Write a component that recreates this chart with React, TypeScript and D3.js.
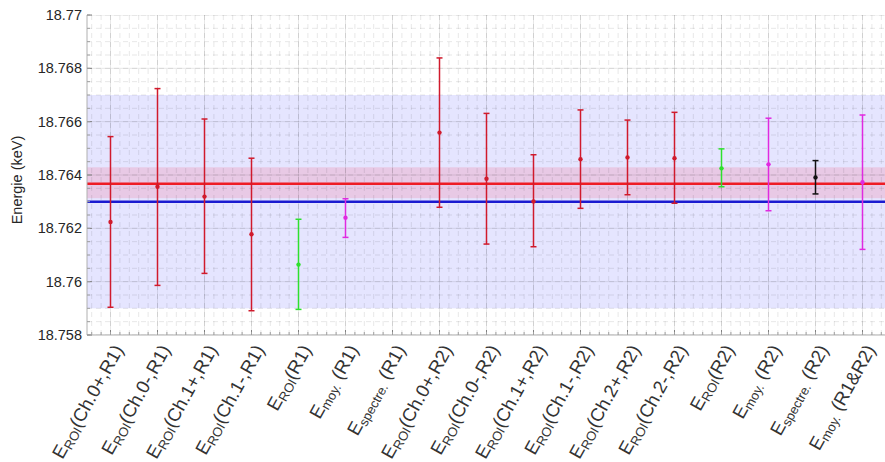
import React from "react";
import * as d3 from "d3";

const labelSubs = ["ROI", "ROI", "ROI", "ROI", "ROI", "moy.", "spectre.", "ROI", "ROI", "ROI", "ROI", "ROI", "ROI", "ROI", "moy.", "spectre.", "moy."];
const labelArgs = ["(Ch.0+,R1)", "(Ch.0-,R1)", "(Ch.1+,R1)", "(Ch.1-,R1)", "(R1)", " (R1)", " (R1)", "(Ch.0+,R2)", "(Ch.0-,R2)", "(Ch.1+,R2)", "(Ch.1-,R2)", "(Ch.2+,R2)", "(Ch.2-,R2)", "(R2)", " (R2)", " (R2)", " (R1&R2)"];
const values: (number | null)[] = [18.76224, 18.76356, 18.76319, 18.76178, 18.76064, 18.7624, null, 18.76559, 18.76386, 18.76301, 18.76459, 18.76466, 18.76463, 18.76425, 18.7644, 18.76391, 18.76373];
const uppers: (number | null)[] = [18.76544, 18.76724, 18.7661, 18.76463, 18.76234, 18.76311, null, 18.76839, 18.76631, 18.76476, 18.76644, 18.76606, 18.76635, 18.76498, 18.76613, 18.76454, 18.76625];
const lowers: (number | null)[] = [18.75904, 18.75986, 18.76031, 18.75891, 18.75896, 18.76166, null, 18.76279, 18.76141, 18.76131, 18.76275, 18.76326, 18.76294, 18.76356, 18.76266, 18.76329, 18.76121];
const pointColors = ["red", "red", "red", "red", "green", "magenta", "none", "red", "red", "red", "red", "red", "red", "green", "magenta", "black", "magenta"];
const yTicks = [18.758, 18.76, 18.762, 18.764, 18.766, 18.768, 18.77];
const yTickLabels = ["18.758", "18.76", "18.762", "18.764", "18.766", "18.768", "18.77"];
const blueBand = [18.759, 18.767];
const blueLine = 18.763;
const redBand = [18.76313, 18.76429];
const redLine = 18.76367;

const colorMap: Record<string, string> = {
  red: "#d01a2c",
  green: "#2ee02e",
  magenta: "#e02ae0",
  black: "#111111",
  none: "none",
};

export default function App() {
  const W = 885, H = 462;
  const left = 87, right = 886, top = 15, bottom = 335;
  const x = d3.scaleLinear().domain([0.5, 17.5]).range([left, right]);
  const y = d3.scaleLinear().domain([18.758, 18.77]).range([bottom, top]);
  const minorY = d3.range(18.758, 18.77001, 0.0005);
  const minorX = d3.range(0.6, 17.5, 0.2);
  const cats = labelArgs.map((_, i) => i + 1);
  const font = "'Liberation Sans', Arial, Helvetica, sans-serif";

  return (
    <svg width={W} height={H} style={{ position: "absolute", left: 0, top: 0, background: "#fff" }} fontFamily={font}>
      <defs>
        <clipPath id="plot">
          <rect x={left} y={top} width={right - left} height={bottom - top} />
        </clipPath>
      </defs>
      <g clipPath="url(#plot)">
        <rect x={left} width={right - left} y={y(blueBand[1])} height={y(blueBand[0]) - y(blueBand[1])} fill="rgba(40,40,255,0.12)" />
        <rect x={left} width={right - left} y={y(redBand[1])} height={y(redBand[0]) - y(redBand[1])} fill="rgba(255,0,40,0.12)" />
        {minorY.map((v, i) => (
          <line key={"my" + i} x1={left} x2={right} y1={y(v)} y2={y(v)} stroke="rgba(0,0,0,0.12)" strokeWidth={0.8} strokeDasharray="5 4" />
        ))}
        {minorX.map((v, i) => (
          <line key={"mx" + i} x1={x(v)} x2={x(v)} y1={top} y2={bottom} stroke="rgba(0,0,0,0.12)" strokeWidth={0.8} strokeDasharray="5 4" />
        ))}
        {yTicks.map((v, i) => (
          <line key={"gy" + i} x1={left} x2={right} y1={y(v)} y2={y(v)} stroke="rgba(0,0,0,0.12)" strokeWidth={0.8} />
        ))}
        {cats.map((c) => (
          <line key={"gx" + c} x1={x(c)} x2={x(c)} y1={top} y2={bottom} stroke="rgba(0,0,0,0.12)" strokeWidth={0.8} />
        ))}
        <line x1={left} x2={right} y1={y(redLine)} y2={y(redLine)} stroke="#ee1c24" strokeWidth={2.5} />
        <line x1={left} x2={right} y1={y(blueLine)} y2={y(blueLine)} stroke="#1a1ad0" strokeWidth={2.5} />
        {cats.map((c, i) => {
          const v = values[i], u = uppers[i], l = lowers[i];
          if (v === null || u === null || l === null) return null;
          const col = colorMap[pointColors[i]];
          const cx = x(c);
          return (
            <g key={"p" + i} stroke={col} fill={col}>
              <line x1={cx} x2={cx} y1={y(u)} y2={y(l)} strokeWidth={1.5} />
              <line x1={cx - 3} x2={cx + 3} y1={y(u)} y2={y(u)} strokeWidth={1.5} />
              <line x1={cx - 3} x2={cx + 3} y1={y(l)} y2={y(l)} strokeWidth={1.5} />
              <circle cx={cx} cy={y(v)} r={2.2} stroke="none" />
            </g>
          );
        })}
      </g>
      {/* axes */}
      <line x1={left} x2={left} y1={top} y2={bottom} stroke="#b0b0b0" strokeWidth={1} />
      <line x1={left} x2={right} y1={bottom} y2={bottom} stroke="#b0b0b0" strokeWidth={1} />
      {yTicks.map((v, i) => (
        <g key={"yt" + i}>
          <line x1={left} x2={left + 5} y1={y(v)} y2={y(v)} stroke="#808080" />
          <text x={82} y={y(v)} dy="0.35em" textAnchor="end" fontSize={14.5} fill="#262626">{yTickLabels[i]}</text>
        </g>
      ))}
      {minorY.map((v, i) => (
        <line key={"myt" + i} x1={left} x2={left + 3} y1={y(v)} y2={y(v)} stroke="#a0a0a0" />
      ))}
      {cats.map((c) => (
        <line key={"xt" + c} x1={x(c)} x2={x(c)} y1={bottom} y2={bottom - 5} stroke="#808080" />
      ))}
      {minorX.map((v, i) => (
        <line key={"mxt" + i} x1={x(v)} x2={x(v)} y1={bottom} y2={bottom - 3} stroke="#a0a0a0" />
      ))}
      {cats.map((c, i) => (
        <text key={"xl" + i} transform={`translate(${x(c) + 9},${347}) rotate(-61)`} textAnchor="end" dominantBaseline="middle" fontSize={18.5} fill="#333333">
          <tspan>E</tspan>
          <tspan fontSize={13} dy={5}>{labelSubs[i]}</tspan>
          <tspan dy={-5}>{labelArgs[i]}</tspan>
        </text>
      ))}
      <text transform={`translate(22,180) rotate(-90)`} textAnchor="middle" fontSize={14.5} fill="#262626">Energie (keV)</text>
    </svg>
  );
}
